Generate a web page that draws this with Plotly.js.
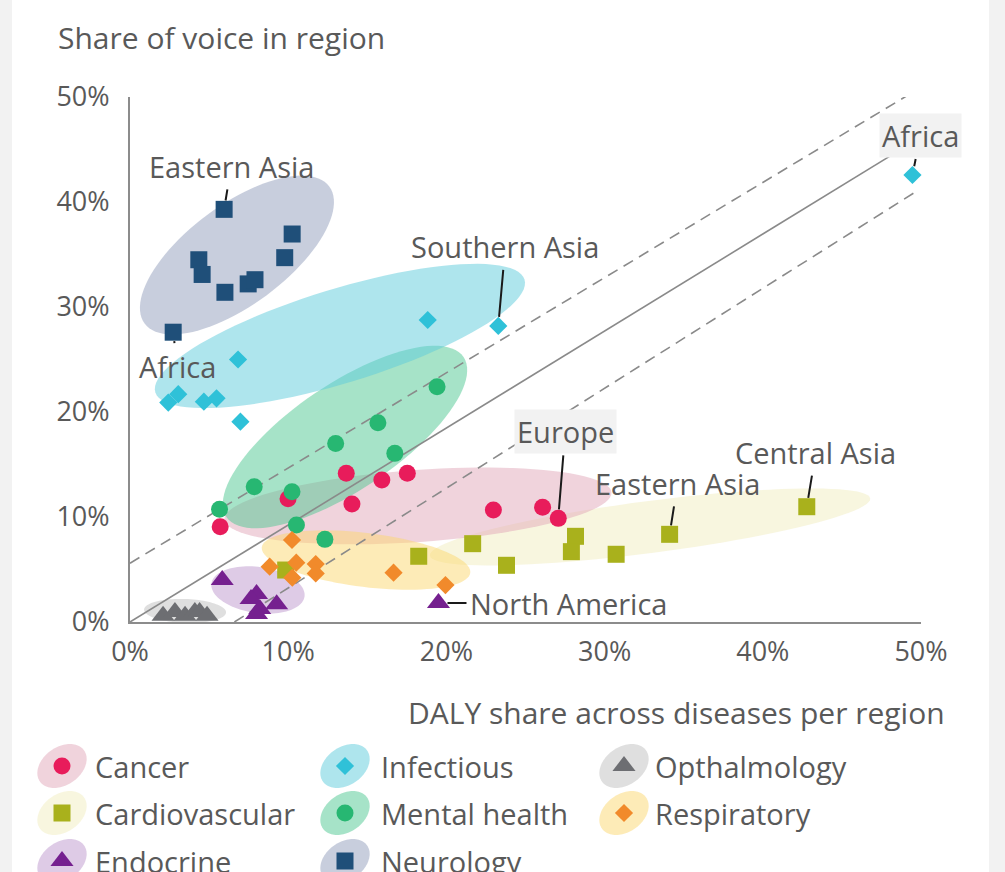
<!DOCTYPE html>
<html><head><meta charset="utf-8">
<script src="https://cdn.plot.ly/plotly-3.0.1.min.js"></script>
<style>html,body{margin:0;padding:0;background:#fff;}#chart{width:1005px;height:872px;}</style>
</head><body><div id="chart"></div>
<script>
// ---------- DATA ----------
const categories = ['Cancer','Cardiovascular','Endocrine','Infectious','Mental health','Neurology','Opthalmology','Respiratory'];
const xTickVals = [0,10,20,30,40,50];
const xTickText = ['0%','10%','20%','30%','40%','50%'];
const yTickVals = [0,10,20,30,40,50];
const yTickText = ['0%','10%','20%','30%','40%','50%'];

const cancerX = [13.67,15.92,17.53,9.99,14.03,5.70,22.97,26.08,27.07];
const cancerY = [14.16,13.52,14.16,11.74,11.24,9.08,10.67,10.92,9.87];
const cardioX = [42.78,34.11,28.16,27.90,30.73,21.66,23.80,18.25,9.84];
const cardioY = [10.98,8.35,8.16,6.70,6.45,7.46,5.40,6.26,4.95];
const endocrineX = [5.83,8.00,7.65,9.27,8.20,8.00,19.50];
const endocrineY = [4.00,2.67,2.20,1.70,1.24,0.76,1.80];
const infectiousX = [49.46,23.28,18.82,6.83,3.05,2.42,4.67,5.47,6.98];
const infectiousY = [42.57,28.20,28.76,25.00,21.70,20.90,20.98,21.30,19.08];
const mentalX = [19.41,15.67,13.00,16.74,7.85,10.24,5.66,10.52,12.32];
const mentalY = [22.40,18.98,17.00,16.06,12.89,12.41,10.73,9.24,7.87];
const neuroX = [5.95,10.25,4.35,4.56,9.78,6.00,7.47,7.90,2.73];
const neuroY = [39.30,36.95,34.50,33.10,34.70,31.40,32.20,32.60,27.60];
const ophthX = [2.09,2.84,3.48,4.10,4.40,4.87];
const ophthY = [0.60,0.95,0.60,0.95,0.95,0.60];
const respX = [10.24,8.83,10.51,11.74,11.74,10.26,16.66,19.94];
const respY = [7.81,5.27,5.65,5.52,4.63,4.22,4.70,3.52];

const seriesX = {'Cancer':cancerX,'Cardiovascular':cardioX,'Endocrine':endocrineX,'Infectious':infectiousX,'Mental health':mentalX,'Neurology':neuroX,'Opthalmology':ophthX,'Respiratory':respX};
const seriesY = {'Cancer':cancerY,'Cardiovascular':cardioY,'Endocrine':endocrineY,'Infectious':infectiousY,'Mental health':mentalY,'Neurology':neuroY,'Opthalmology':ophthY,'Respiratory':respY};

// region labels: series, point index, text
const labelSeries = ['Neurology','Neurology','Infectious','Infectious','Cancer','Cardiovascular','Cardiovascular','Endocrine'];
const labelIndex  = [0,8,1,0,8,1,0,6];
const labelText   = ['Eastern Asia','Africa','Southern Asia','Africa','Europe','Eastern Asia','Central Asia','North America'];

// reference lines (data units)
const refLineX0 = [0, 0, 6.6];
const refLineY0 = [0, 5.6, 0];
const refLineX1 = [48.5, 49.2, 49.7];
const refLineY1 = [44.8, 50.2, 41.0];

// ---------- STYLE / LAYOUT ----------
const W = 1005, H = 872;
const PL = 130, PR = 921, PT = 97, PB = 622;
const sx = (PR - PL) / 50, sy = (PB - PT) / 50;
const FONT = 'Open Sans, sans-serif';
const TXT = '#595959';

const style = {
  'Cancer':        {symbol:'circle',      color:'#e81c5b', size:17, fill:'#e1a7b9', ell:[18.2,11.05,194,36,4],   col:0,row:0},
  'Cardiovascular':{symbol:'square',      color:'#a9b11c', size:17, fill:'#f1edbf', ell:[32.87,9.05,222,26,7.4], col:0,row:1},
  'Endocrine':     {symbol:'triangle-up', color:'#75208f', size:20, fill:'#bd97cd', ell:[8.09,3.05,47,23,-8],    col:0,row:2},
  'Infectious':    {symbol:'diamond',     color:'#2fc1d8', size:14, fill:'#5dcbdb', ell:[13.27,27.24,193,47,17], col:1,row:0},
  'Mental health': {symbol:'circle',      color:'#27b772', size:17, fill:'#4dc791', ell:[13.59,17.62,143,53,34], col:1,row:1},
  'Neurology':     {symbol:'square',      color:'#1f4f79', size:17, fill:'#919dbb', ell:[6.76,34.95,115,50,36.6],col:1,row:2},
  'Opthalmology':  {symbol:'triangle-up', color:'#6d6e72', size:20, fill:'#bfbfbf', ell:[3.48,1.05,41,12,-2],    col:2,row:0},
  'Respiratory':   {symbol:'diamond',     color:'#f18a2b', size:14, fill:'#fbd76f', ell:[14.92,5.90,105,27,-7],  col:2,row:1}
};
const ellOrder = ['Cardiovascular','Cancer','Respiratory','Endocrine','Opthalmology','Mental health','Infectious','Neurology'];
const legColX = [62, 345, 624], legTextX = [93, 379, 653], legRowY = [766, 813, 861];

const labelOffsets = [[7,-43],[4,34],[7,-79],[8,-40],[7,-87],[8,-51],[9,-54],[130,0]];
const labelBg = [false,false,false,true,true,false,false,false];

function ellPath(cx, cy, a, b, deg, mx, my) {
  const th = deg * Math.PI / 180; let d = '';
  const n = 96;
  for (let i = 0; i <= n; i++) {
    const t = 2 * Math.PI * i / n;
    const dx = a*Math.cos(t)*Math.cos(th) - b*Math.sin(t)*Math.sin(th);
    const dy = a*Math.cos(t)*Math.sin(th) + b*Math.sin(t)*Math.cos(th);
    d += (i ? 'L' : 'M') + mx(cx, dx).toFixed(3) + ',' + my(cy, dy).toFixed(3);
  }
  return d + 'Z';
}
const dataMX = (c, d) => c + d / sx, dataMY = (c, d) => c + d / sy;
const pxMX = (c, d) => c + d, pxMY = (c, d) => c - d;

const shapes = [];
// side strips
shapes.push({type:'rect', xref:'x2', yref:'y2', x0:0, x1:12, y0:0, y1:H, fillcolor:'#f2f2f2', line:{width:0}, layer:'below'});
shapes.push({type:'rect', xref:'x2', yref:'y2', x0:989, x1:W, y0:0, y1:H, fillcolor:'#f2f2f2', line:{width:0}, layer:'below'});
// data ellipses
ellOrder.forEach(name => {
  const e = style[name].ell;
  shapes.push({type:'path', xref:'x', yref:'y', path:ellPath(e[0],e[1],e[2],e[3],e[4],dataMX,dataMY),
    fillcolor:style[name].fill, opacity:0.5, line:{width:0}, layer:'below'});
});
// reference lines
for (let i = 0; i < refLineX0.length; i++) {
  shapes.push({type:'line', xref:'x', yref:'y', x0:refLineX0[i], y0:refLineY0[i], x1:refLineX1[i], y1:refLineY1[i],
    line:{color:'#8a8a8a', width:1.6, dash: i === 0 ? 'solid' : '11px,7px'}, layer:'between'});
}
// legend ellipses
categories.forEach(name => {
  const s = style[name];
  shapes.push({type:'path', xref:'x2', yref:'y2', path:ellPath(legColX[s.col], legRowY[s.row], 27, 19, 35, pxMX, pxMY),
    fillcolor:s.fill, opacity:0.5, line:{width:0}, layer:'below'});
});

const traces = [];
categories.forEach(name => {
  const s = style[name];
  traces.push({type:'scatter', mode:'markers', name:name, x:seriesX[name], y:seriesY[name], xaxis:'x', yaxis:'y',
    marker:{symbol:s.symbol, color:s.color, size:s.size, line:{width:0}}, cliponaxis:false, showlegend:false, hoverinfo:'skip'});
});
// legend markers
categories.forEach(name => {
  const s = style[name];
  traces.push({type:'scatter', mode:'markers', x:[legColX[s.col]], y:[legRowY[s.row]], xaxis:'x2', yaxis:'y2',
    marker:{symbol:s.symbol, color:s.color, size:s.size, line:{width:0}}, cliponaxis:false, showlegend:false, hoverinfo:'skip'});
});

const annotations = [];
labelText.forEach((t, i) => {
  const name = labelSeries[i], k = labelIndex[i];
  const a = {xref:'x', yref:'y', x:seriesX[name][k], y:seriesY[name][k], text:t, showarrow:true,
    arrowhead:0, arrowwidth:2, arrowcolor:'#1a1a1a', standoff:9, startstandoff:2,
    ax:labelOffsets[i][0], ay:labelOffsets[i][1], axref:'pixel', ayref:'pixel',
    font:{family:FONT, size:29, color:TXT}, borderpad:1};
  if (labelBg[i]) { a.bgcolor = '#f2f2f2'; a.borderpad = 2; }
  annotations.push(a);
});
// titles
annotations.push({xref:'x2', yref:'y2', x:56, y:37, xanchor:'left', yanchor:'middle', showarrow:false,
  text:'Share of voice in region', font:{family:FONT, size:30, color:TXT}});
annotations.push({xref:'x2', yref:'y2', x:947, y:712, xanchor:'right', yanchor:'middle', showarrow:false,
  text:'DALY share across diseases per region', font:{family:FONT, size:30, color:TXT}});
// legend texts
categories.forEach(name => {
  const s = style[name];
  annotations.push({xref:'x2', yref:'y2', x:legTextX[s.col], y:legRowY[s.row], xanchor:'left', yanchor:'middle', showarrow:false,
    text:name, font:{family:FONT, size:29, color:TXT}});
});

const layout = {
  width:W, height:H, margin:{l:0,r:0,t:0,b:0}, paper_bgcolor:'#ffffff', plot_bgcolor:'rgba(0,0,0,0)',
  showlegend:false, font:{family:FONT, color:TXT},
  xaxis:{domain:[PL/W, PR/W], range:[0,50], anchor:'y', tickvals:xTickVals, ticktext:xTickText, showgrid:false, zeroline:false,
    showline:true, linecolor:'#8c8c8c', linewidth:2, ticks:'', ticklabelstandoff:5, tickfont:{family:FONT,size:27,color:TXT}, fixedrange:true},
  yaxis:{domain:[(H-PB)/H, (H-PT)/H], range:[0,50], anchor:'x', tickvals:yTickVals, ticktext:yTickText, showgrid:false, zeroline:false,
    showline:true, linecolor:'#8c8c8c', linewidth:2, ticks:'', ticklabelstandoff:13, tickfont:{family:FONT,size:27,color:TXT}, fixedrange:true},
  xaxis2:{domain:[0,1], range:[0,W], anchor:'y2', visible:false, fixedrange:true},
  yaxis2:{domain:[0,1], range:[H,0], anchor:'x2', visible:false, fixedrange:true},
  shapes:shapes, annotations:annotations
};
Plotly.newPlot('chart', traces, layout, {staticPlot:true, displayModeBar:false});
</script></body></html>
